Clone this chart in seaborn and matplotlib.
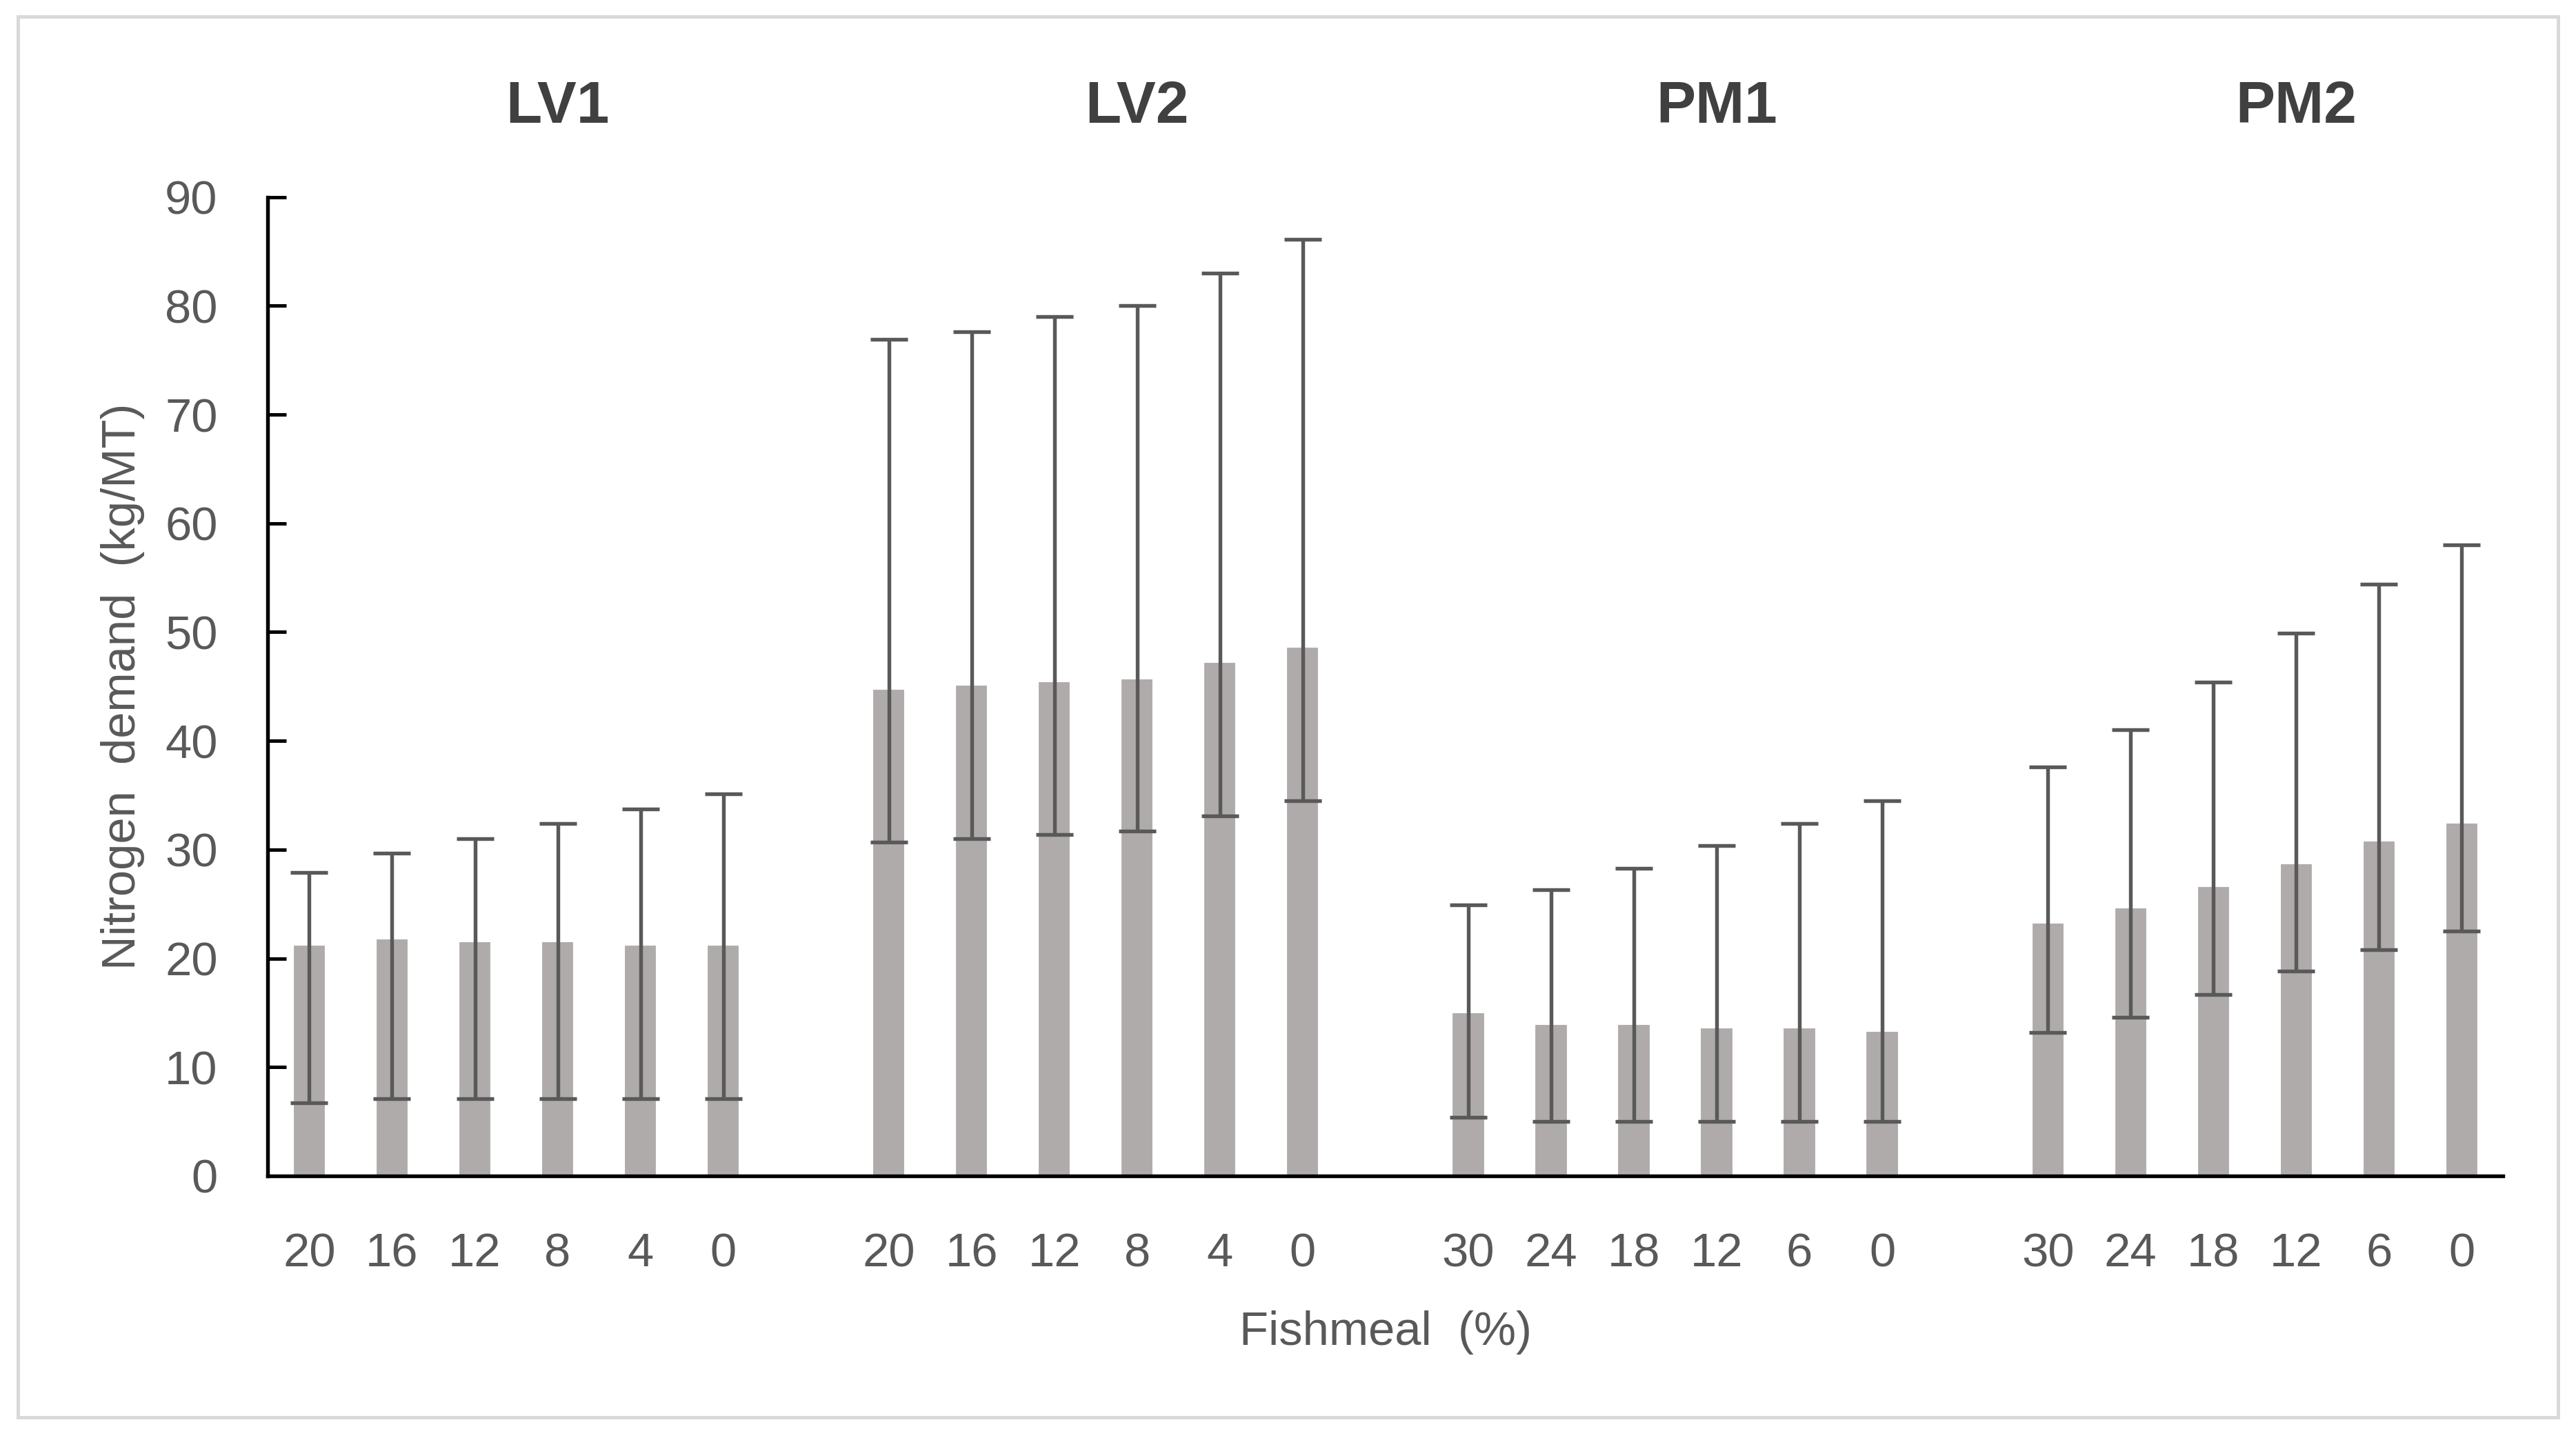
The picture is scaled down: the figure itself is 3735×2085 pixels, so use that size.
import numpy as np
import pandas as pd
import matplotlib
matplotlib.use("Agg")
import matplotlib.pyplot as plt
import seaborn as sns
from matplotlib.patches import Rectangle

# ---- data ----
groups = ["LV1", "LV2", "PM1", "PM2"]
fishmeal_lv = ["20", "16", "12", "8", "4", "0"]
fishmeal_pm = ["30", "24", "18", "12", "6", "0"]

lv1_mean = [21.3, 21.9, 21.6, 21.6, 21.3, 21.3]
lv1_low = [6.7, 7.1, 7.1, 7.1, 7.1, 7.1]
lv1_high = [27.9, 29.7, 31.0, 32.4, 33.7, 35.1]

lv2_mean = [44.8, 45.2, 45.5, 45.8, 47.3, 48.7]
lv2_low = [30.7, 31.0, 31.4, 31.7, 33.1, 34.5]
lv2_high = [76.9, 77.6, 79.0, 80.0, 83.0, 86.1]

pm1_mean = [15.1, 14.0, 14.0, 13.7, 13.7, 13.4]
pm1_low = [5.4, 5.0, 5.0, 5.0, 5.0, 5.0]
pm1_high = [24.9, 26.3, 28.3, 30.4, 32.4, 34.5]

pm2_mean = [23.3, 24.7, 26.7, 28.8, 30.9, 32.5]
pm2_low = [13.2, 14.6, 16.7, 18.8, 20.8, 22.5]
pm2_high = [37.6, 41.0, 45.4, 49.9, 54.4, 58.0]

means = [lv1_mean, lv2_mean, pm1_mean, pm2_mean]
lows = [lv1_low, lv2_low, pm1_low, pm2_low]
highs = [lv1_high, lv2_high, pm1_high, pm2_high]
labels = [fishmeal_lv, fishmeal_lv, fishmeal_pm, fishmeal_pm]

rows = []
for gi, g in enumerate(groups):
    for j in range(6):
        rows.append({"group": g, "pos": gi * 7 + j, "fishmeal": labels[gi][j],
                     "mean": means[gi][j], "low": lows[gi][j], "high": highs[gi][j]})
df = pd.DataFrame(rows)

sns.set_theme(style="white")
plt.rcParams["font.family"] = ["Liberation Sans", "DejaVu Sans"]

fig = plt.figure(figsize=(3735 / 300, 2085 / 300), dpi=300)
ax = fig.add_axes([0.1040, 0.1823, 0.8677, 0.6807])

bar_color = "#AFABAB"
err_color = "#595959"
text_color = "#595959"

sns.barplot(data=df, x="pos", y="mean", native_scale=True, width=0.41,
            color=bar_color, saturation=1, errorbar=None, ax=ax, zorder=2)

ax.errorbar(df["pos"], df["mean"],
            yerr=[df["mean"] - df["low"], df["high"] - df["mean"]],
            fmt="none", ecolor=err_color, elinewidth=1.3, capsize=6.5,
            capthick=1.3, zorder=3)

ax.set_xlim(-0.5, 26.5)
ax.set_ylim(0, 90)
ax.set_yticks(np.arange(0, 91, 10))
ax.set_xticks(df["pos"])
ax.set_xticklabels(df["fishmeal"])

for s in ["top", "right"]:
    ax.spines[s].set_visible(False)
for s in ["left", "bottom"]:
    ax.spines[s].set_visible(True)
    ax.spines[s].set_color("black")
    ax.spines[s].set_linewidth(1.3)

ax.tick_params(axis="y", which="major", direction="in", length=6.5, width=1.2,
               color="black", left=True, labelsize=16.5, labelcolor=text_color, pad=17.5)
ax.tick_params(axis="x", which="major", length=0, labelsize=16.5,
               labelcolor=text_color, pad=19.5)

ax.set_ylabel("Nitrogen  demand  (kg/MT)", fontsize=16.5, color=text_color)
ax.yaxis.set_label_coords(-0.055, 0.5)
ax.set_xlabel("Fishmeal  (%)", fontsize=16.5, color=text_color)
ax.xaxis.set_label_coords(0.5, -0.1375)

for gi, g in enumerate(groups):
    ax.text(gi * 7 + 3.0, 1.0755, g, transform=ax.get_xaxis_transform(),
            ha="center", va="baseline", fontsize=20.5, fontweight="bold",
            color="#404040")

fig.patches.append(Rectangle((26 / 3735, 30 / 2085), (3709 - 26) / 3735,
                             (2061 - 30) / 2085, transform=fig.transFigure,
                             fill=False, edgecolor="#D9D9D9", linewidth=1.2))

fig.savefig("out.png", dpi=300, facecolor="white")
